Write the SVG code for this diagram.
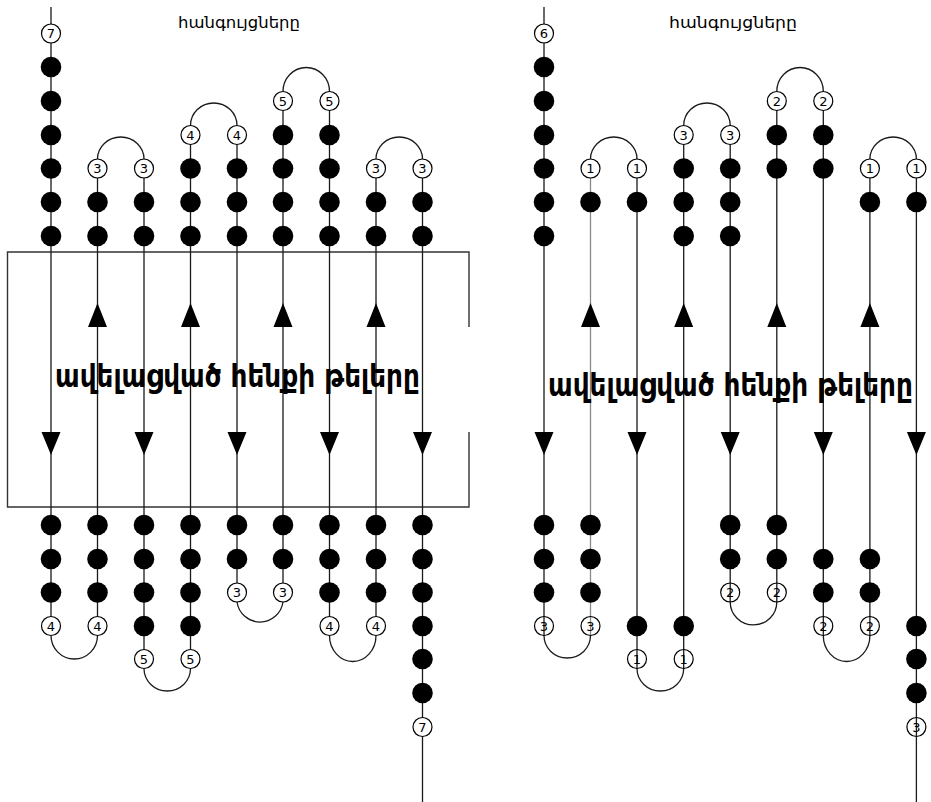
<svg xmlns="http://www.w3.org/2000/svg" width="931" height="802" viewBox="0 0 931 802">
<style>
.ln{stroke:#1a1a1a;stroke-width:1.3;fill:none}
.lg{stroke:#8a8a8a;stroke-width:1.3;fill:none}
.box{stroke:#333;stroke-width:1.4;fill:none}
.ar{fill:#000}
.d{fill:#000}
.o{fill:#fff;stroke:#000;stroke-width:1.2}
.on{fill:none;stroke:#000;stroke-width:1.2}
.n{font-family:"DejaVu Sans","Liberation Sans",sans-serif;font-size:13px;text-anchor:middle;fill:#000}
.t{font-family:"DejaVu Sans","Noto Sans",sans-serif;font-size:16px;fill:#000}
.b{font-family:"DejaVu Sans","Noto Sans",sans-serif;font-size:32px;font-weight:bold;fill:#000}
</style>
<rect width="931" height="802" fill="#fff"/>

<g id="connectors">
<path class="box" d="M469 327 V252 H7.5 V507 H469 V432"/>
<path class="ln" d="M51 7 V626 M97.5 168.5 V626 M144 168.5 V659 M190.5 135 V659 M237 135 V592.5 M283 101 V592.5 M329.5 101 V626 M376 168.5 V626 M422.5 168.5 V802"/>
<path class="ln" d="M97.5 159 A23.25 22 0 0 1 144 159 M190.5 125.5 A23.25 22.5 0 0 1 237 125.5 M283 91.5 A23.25 24 0 0 1 329.5 91.5 M376 159 A23.25 22 0 0 1 422.5 159"/>
<path class="ln" d="M51 635.5 A23.25 23.5 0 0 0 97.5 635.5 M144 668.5 A23.25 22.5 0 0 0 190.5 668.5 M237 602 A23.25 23.5 0 0 0 283 602 M329.5 635.5 A23.25 26 0 0 0 376 635.5"/>
<path class="ar" d="M41.5 432 H60.5 L51 455 Z M134.5 432 H153.5 L144 455 Z M227.5 432 H246.5 L237 455 Z M320 432 H339 L329.5 455 Z M413 432 H432 L422.5 455 Z"/>
<path class="ar" d="M97.5 303 L107 327 H88 Z M190.5 303 L200 327 H181 Z M283 303 L292.5 327 H273.5 Z M376 303 L385.5 327 H366.5 Z"/>
<path class="ln" d="M544 7 V635.5 M637 168.5 V668.5 M683.7 135 V668.5 M730.2 135 V602 M776.8 101 V602 M823.3 101 V635.5 M869.9 168.5 V635.5 M916.4 168.5 V802"/>
<path class="lg" d="M590.5 168.5 V635.5"/>
<path class="ln" d="M590.5 159 A23.25 22 0 0 1 637 159 M683.7 125.5 A23.25 22.5 0 0 1 730.2 125.5 M776.8 91.5 A23.25 24 0 0 1 823.3 91.5 M869.9 159 A23.25 22 0 0 1 916.4 159"/>
<path class="ln" d="M544 635.5 A23.25 22.5 0 0 0 590.5 635.5 M637 668.5 A23.35 22.5 0 0 0 683.7 668.5 M730.2 602 A23.3 23 0 0 0 776.8 602 M823.3 635.5 A23.3 26 0 0 0 869.9 635.5"/>
<path class="ar" d="M534.5 432 H553.5 L544 455 Z M627.5 432 H646.5 L637 455 Z M720.7 432 H739.7 L730.2 455 Z M813.8 432 H832.8 L823.3 455 Z M906.9 432 H925.9 L916.4 455 Z"/>
<path class="ar" d="M590.5 303 L600 327 H581 Z M683.7 303 L693.2 327 H674.2 Z M776.8 303 L786.3 327 H767.3 Z M869.9 303 L879.4 327 H860.4 Z"/>
</g>

<g id="L-top-1">
<circle class="o" cx="51" cy="33.5" r="9.5"/><text class="n" x="51" y="38.2">7</text>
<circle class="d" cx="51" cy="67" r="10.3"/><circle class="d" cx="51" cy="101" r="10.3"/><circle class="d" cx="51" cy="135" r="10.3"/><circle class="d" cx="51" cy="168.5" r="10.3"/><circle class="d" cx="51" cy="202" r="10.3"/><circle class="d" cx="51" cy="236" r="10.3"/>
</g>
<g id="L-top-2">
<circle class="o" cx="97.5" cy="168.5" r="9.5"/><text class="n" x="97.5" y="173.2">3</text>
<circle class="d" cx="97.5" cy="202" r="10.3"/><circle class="d" cx="97.5" cy="236" r="10.3"/>
</g>
<g id="L-top-3">
<circle class="o" cx="144" cy="168.5" r="9.5"/><text class="n" x="144" y="173.2">3</text>
<circle class="d" cx="144" cy="202" r="10.3"/><circle class="d" cx="144" cy="236" r="10.3"/>
</g>
<g id="L-top-4">
<circle class="o" cx="190.5" cy="135" r="9.5"/><text class="n" x="190.5" y="139.7">4</text>
<circle class="d" cx="190.5" cy="168.5" r="10.3"/><circle class="d" cx="190.5" cy="202" r="10.3"/><circle class="d" cx="190.5" cy="236" r="10.3"/>
</g>
<g id="L-top-5">
<circle class="o" cx="237" cy="135" r="9.5"/><text class="n" x="237" y="139.7">4</text>
<circle class="d" cx="237" cy="168.5" r="10.3"/><circle class="d" cx="237" cy="202" r="10.3"/><circle class="d" cx="237" cy="236" r="10.3"/>
</g>
<g id="L-top-6">
<circle class="o" cx="283" cy="101" r="9.5"/><text class="n" x="283" y="105.7">5</text>
<circle class="d" cx="283" cy="135" r="10.3"/><circle class="d" cx="283" cy="168.5" r="10.3"/><circle class="d" cx="283" cy="202" r="10.3"/><circle class="d" cx="283" cy="236" r="10.3"/>
</g>
<g id="L-top-7">
<circle class="o" cx="329.5" cy="101" r="9.5"/><text class="n" x="329.5" y="105.7">5</text>
<circle class="d" cx="329.5" cy="135" r="10.3"/><circle class="d" cx="329.5" cy="168.5" r="10.3"/><circle class="d" cx="329.5" cy="202" r="10.3"/><circle class="d" cx="329.5" cy="236" r="10.3"/>
</g>
<g id="L-top-8">
<circle class="o" cx="376" cy="168.5" r="9.5"/><text class="n" x="376" y="173.2">3</text>
<circle class="d" cx="376" cy="202" r="10.3"/><circle class="d" cx="376" cy="236" r="10.3"/>
</g>
<g id="L-top-9">
<circle class="o" cx="422.5" cy="168.5" r="9.5"/><text class="n" x="422.5" y="173.2">3</text>
<circle class="d" cx="422.5" cy="202" r="10.3"/><circle class="d" cx="422.5" cy="236" r="10.3"/>
</g>

<g id="L-bot-1">
<circle class="d" cx="51" cy="525" r="10.3"/><circle class="d" cx="51" cy="559" r="10.3"/><circle class="d" cx="51" cy="592.5" r="10.3"/>
<circle class="o" cx="51" cy="626" r="9.5"/><text class="n" x="51" y="630.7">4</text>
</g>
<g id="L-bot-2">
<circle class="d" cx="97.5" cy="525" r="10.3"/><circle class="d" cx="97.5" cy="559" r="10.3"/><circle class="d" cx="97.5" cy="592.5" r="10.3"/>
<circle class="o" cx="97.5" cy="626" r="9.5"/><text class="n" x="97.5" y="630.7">4</text>
</g>
<g id="L-bot-3">
<circle class="d" cx="144" cy="525" r="10.3"/><circle class="d" cx="144" cy="559" r="10.3"/><circle class="d" cx="144" cy="592.5" r="10.3"/><circle class="d" cx="144" cy="626" r="10.3"/>
<circle class="o" cx="144" cy="659" r="9.5"/><text class="n" x="144" y="663.7">5</text>
</g>
<g id="L-bot-4">
<circle class="d" cx="190.5" cy="525" r="10.3"/><circle class="d" cx="190.5" cy="559" r="10.3"/><circle class="d" cx="190.5" cy="592.5" r="10.3"/><circle class="d" cx="190.5" cy="626" r="10.3"/>
<circle class="o" cx="190.5" cy="659" r="9.5"/><text class="n" x="190.5" y="663.7">5</text>
</g>
<g id="L-bot-5">
<circle class="d" cx="237" cy="525" r="10.3"/><circle class="d" cx="237" cy="559" r="10.3"/>
<circle class="o" cx="237" cy="592.5" r="9.5"/><text class="n" x="237" y="597.2">3</text>
</g>
<g id="L-bot-6">
<circle class="d" cx="283" cy="525" r="10.3"/><circle class="d" cx="283" cy="559" r="10.3"/>
<circle class="o" cx="283" cy="592.5" r="9.5"/><text class="n" x="283" y="597.2">3</text>
</g>
<g id="L-bot-7">
<circle class="d" cx="329.5" cy="525" r="10.3"/><circle class="d" cx="329.5" cy="559" r="10.3"/><circle class="d" cx="329.5" cy="592.5" r="10.3"/>
<circle class="o" cx="329.5" cy="626" r="9.5"/><text class="n" x="329.5" y="630.7">4</text>
</g>
<g id="L-bot-8">
<circle class="d" cx="376" cy="525" r="10.3"/><circle class="d" cx="376" cy="559" r="10.3"/><circle class="d" cx="376" cy="592.5" r="10.3"/>
<circle class="o" cx="376" cy="626" r="9.5"/><text class="n" x="376" y="630.7">4</text>
</g>
<g id="L-bot-9">
<circle class="d" cx="422.5" cy="525" r="10.3"/><circle class="d" cx="422.5" cy="559" r="10.3"/><circle class="d" cx="422.5" cy="592.5" r="10.3"/><circle class="d" cx="422.5" cy="626" r="10.3"/><circle class="d" cx="422.5" cy="659" r="10.3"/><circle class="d" cx="422.5" cy="693" r="10.3"/>
<circle class="o" cx="422.5" cy="727" r="9.5"/><text class="n" x="422.5" y="731.7">7</text>
</g>

<g id="R-top-1">
<circle class="o" cx="544" cy="33.5" r="9.5"/><text class="n" x="544" y="38.2">6</text>
<circle class="d" cx="544" cy="67" r="10.3"/><circle class="d" cx="544" cy="101" r="10.3"/><circle class="d" cx="544" cy="135" r="10.3"/><circle class="d" cx="544" cy="168.5" r="10.3"/><circle class="d" cx="544" cy="202" r="10.3"/><circle class="d" cx="544" cy="236" r="10.3"/>
</g>
<g id="R-top-2">
<circle class="o" cx="590.5" cy="168.5" r="9.5"/><text class="n" x="590.5" y="173.2">1</text>
<circle class="d" cx="590.5" cy="202" r="10.3"/>
</g>
<g id="R-top-3">
<circle class="o" cx="637" cy="168.5" r="9.5"/><text class="n" x="637" y="173.2">1</text>
<circle class="d" cx="637" cy="202" r="10.3"/>
</g>
<g id="R-top-4">
<circle class="o" cx="683.7" cy="135" r="9.5"/><text class="n" x="683.7" y="139.7">3</text>
<circle class="d" cx="683.7" cy="168.5" r="10.3"/><circle class="d" cx="683.7" cy="202" r="10.3"/><circle class="d" cx="683.7" cy="236" r="10.3"/>
</g>
<g id="R-top-5">
<circle class="o" cx="730.2" cy="135" r="9.5"/><text class="n" x="730.2" y="139.7">3</text>
<circle class="d" cx="730.2" cy="168.5" r="10.3"/><circle class="d" cx="730.2" cy="202" r="10.3"/><circle class="d" cx="730.2" cy="236" r="10.3"/>
</g>
<g id="R-top-6">
<circle class="o" cx="776.8" cy="101" r="9.5"/><text class="n" x="776.8" y="105.7">2</text>
<circle class="d" cx="776.8" cy="135" r="10.3"/><circle class="d" cx="776.8" cy="168.5" r="10.3"/>
</g>
<g id="R-top-7">
<circle class="o" cx="823.3" cy="101" r="9.5"/><text class="n" x="823.3" y="105.7">2</text>
<circle class="d" cx="823.3" cy="135" r="10.3"/><circle class="d" cx="823.3" cy="168.5" r="10.3"/>
</g>
<g id="R-top-8">
<circle class="o" cx="869.9" cy="168.5" r="9.5"/><text class="n" x="869.9" y="173.2">1</text>
<circle class="d" cx="869.9" cy="202" r="10.3"/>
</g>
<g id="R-top-9">
<circle class="o" cx="916.4" cy="168.5" r="9.5"/><text class="n" x="916.4" y="173.2">1</text>
<circle class="d" cx="916.4" cy="202" r="10.3"/>
</g>

<g id="R-bot-1">
<circle class="d" cx="544" cy="525" r="10.3"/><circle class="d" cx="544" cy="559" r="10.3"/><circle class="d" cx="544" cy="592.5" r="10.3"/>
<circle class="on" cx="544" cy="626" r="9.5"/><text class="n" x="544" y="630.7">3</text>
</g>
<g id="R-bot-2">
<circle class="d" cx="590.5" cy="525" r="10.3"/><circle class="d" cx="590.5" cy="559" r="10.3"/><circle class="d" cx="590.5" cy="592.5" r="10.3"/>
<circle class="on" cx="590.5" cy="626" r="9.5"/><text class="n" x="590.5" y="630.7">3</text>
</g>
<g id="R-bot-3">
<circle class="d" cx="637" cy="626" r="10.3"/>
<circle class="on" cx="637" cy="659" r="9.5"/><text class="n" x="637" y="663.7">1</text>
</g>
<g id="R-bot-4">
<circle class="d" cx="683.7" cy="626" r="10.3"/>
<circle class="on" cx="683.7" cy="659" r="9.5"/><text class="n" x="683.7" y="663.7">1</text>
</g>
<g id="R-bot-5">
<circle class="d" cx="730.2" cy="525" r="10.3"/><circle class="d" cx="730.2" cy="559" r="10.3"/>
<circle class="on" cx="730.2" cy="592.5" r="9.5"/><text class="n" x="730.2" y="597.2">2</text>
</g>
<g id="R-bot-6">
<circle class="d" cx="776.8" cy="525" r="10.3"/><circle class="d" cx="776.8" cy="559" r="10.3"/>
<circle class="on" cx="776.8" cy="592.5" r="9.5"/><text class="n" x="776.8" y="597.2">2</text>
</g>
<g id="R-bot-7">
<circle class="d" cx="823.3" cy="559" r="10.3"/><circle class="d" cx="823.3" cy="592.5" r="10.3"/>
<circle class="on" cx="823.3" cy="626" r="9.5"/><text class="n" x="823.3" y="630.7">2</text>
</g>
<g id="R-bot-8">
<circle class="d" cx="869.9" cy="559" r="10.3"/><circle class="d" cx="869.9" cy="592.5" r="10.3"/>
<circle class="on" cx="869.9" cy="626" r="9.5"/><text class="n" x="869.9" y="630.7">2</text>
</g>
<g id="R-bot-9">
<circle class="d" cx="916.4" cy="626" r="10.3"/><circle class="d" cx="916.4" cy="659" r="10.3"/><circle class="d" cx="916.4" cy="693" r="10.3"/>
<circle class="on" cx="916.4" cy="727" r="9.5"/><text class="n" x="916.4" y="731.7">3</text>
</g>

<g id="labels">
<text class="t" x="178" y="28" textLength="122" lengthAdjust="spacingAndGlyphs">հանգույցները</text>
<text class="t" x="669" y="28" textLength="128" lengthAdjust="spacingAndGlyphs">հանգույցները</text>
<text class="b" transform="translate(55 387) scale(0.8 1)" x="0" y="0" textLength="456" lengthAdjust="spacingAndGlyphs">ավելացված հենքի թելերը</text>
<text class="b" transform="translate(548 396) scale(0.8 1)" x="0" y="0" textLength="456" lengthAdjust="spacingAndGlyphs">ավելացված հենքի թելերը</text>
</g>
</svg>
